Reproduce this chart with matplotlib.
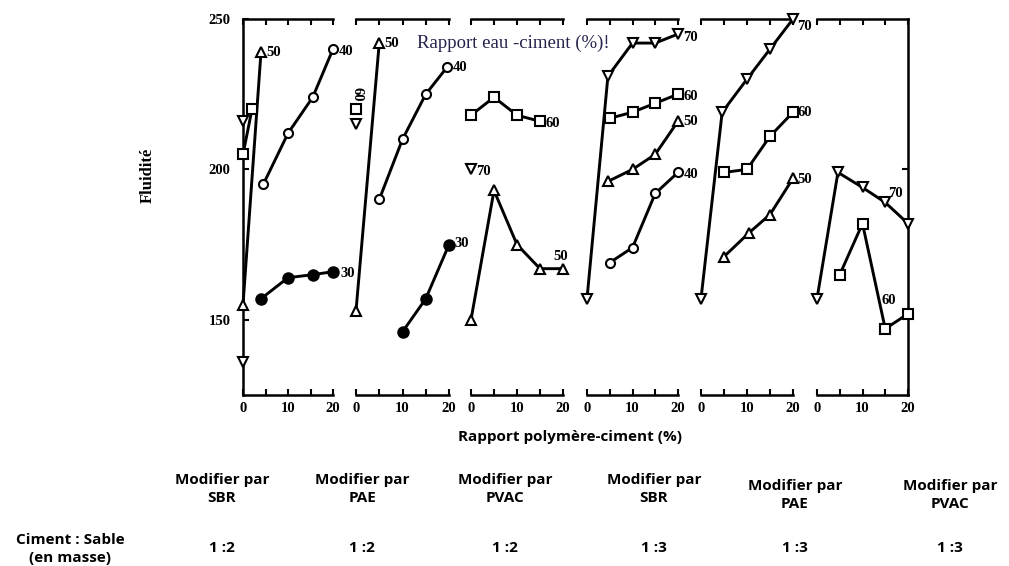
import matplotlib
matplotlib.use("Agg")
import matplotlib.pyplot as plt

# ---------------- data ----------------
panel_names = ["SBR", "PAE", "PVAC", "SBR", "PAE", "PVAC"]
panel_ratios = ["1 :2", "1 :2", "1 :2", "1 :3", "1 :3", "1 :3"]

# Panel 1 : SBR, 1:2
p1_x30 = [4, 10, 15.5, 20]
p1_y30 = [157, 164, 165, 166]
p1_x40 = [4.5, 10, 15.5, 20]
p1_y40 = [195, 212, 224, 240]
p1_x50 = [0, 4]
p1_y50 = [155, 239]
p1_x60 = [0, 2]
p1_y60 = [205, 220]
p1_x70 = [0, 0]
p1_y70 = [136, 216]

# Panel 2 : PAE, 1:2
p2_x30 = [10, 15, 20]
p2_y30 = [146, 157, 175]
p2_x40 = [5, 10, 15, 19.6]
p2_y40 = [190, 210, 225, 234]
p2_x50 = [0, 5]
p2_y50 = [153, 242]
p2_x60 = [0]
p2_y60 = [220]
p2_x70 = [0]
p2_y70 = [215]

# Panel 3 : PVAC, 1:2
p3_x50 = [0, 5, 10, 15, 20]
p3_y50 = [150, 193, 175, 167, 167]
p3_x60 = [0, 5, 10, 15]
p3_y60 = [218, 224, 218, 216]
p3_x70 = [0]
p3_y70 = [200]

# Panel 4 : SBR, 1:3
p4_x40 = [5, 10, 15, 20]
p4_y40 = [169, 174, 192, 199]
p4_x50 = [4.6, 10, 15, 20]
p4_y50 = [196, 200, 205, 216]
p4_x60 = [5, 10, 15, 20]
p4_y60 = [217, 219, 222, 225]
p4_x70 = [0, 4.6, 10, 15, 20]
p4_y70 = [157, 231, 242, 242, 245]

# Panel 5 : PAE, 1:3
p5_x50 = [5, 10.5, 15, 20]
p5_y50 = [171, 179, 185, 197]
p5_x60 = [5, 10, 15, 20]
p5_y60 = [199, 200, 211, 219]
p5_x70 = [0, 4.6, 10, 15, 20]
p5_y70 = [157, 219, 230, 240, 250]

# Panel 6 : PVAC, 1:3
p6_x60 = [5, 10, 15, 20]
p6_y60 = [165, 182, 147, 152]
p6_x70 = [0, 4.6, 10, 15, 20]
p6_y70 = [157, 199, 194, 189, 182]

x_ticks = [0, 5, 10, 15, 20]
x_ticklabels = ["0", "", "10", "", "20"]
y_ticks = [150, 200, 250]

# ---------------- styling ----------------
SERIF = ["Liberation Serif", "DejaVu Serif"]
SANS = ["Open Sans", "Lato", "DejaVu Sans"]
LW = 2.1
MS = 6.5

MARK = {
    30: dict(marker="o", mfc="black", mec="black", ms=7.5),
    40: dict(marker="o", mfc="white", mec="black", ms=MS),
    50: dict(marker="^", mfc="white", mec="black", ms=MS + 1),
    60: dict(marker="s", mfc="white", mec="black", ms=MS),
    70: dict(marker="v", mfc="white", mec="black", ms=MS + 1),
}

W, H = 1009, 566
fig = plt.figure(figsize=(W / 100, H / 100), dpi=100)

panel_px = [(243, 333), (356, 449), (471, 563), (587, 678), (701, 793), (817, 908)]
top_px, bot_px = 19, 395

axes = []
for i, (x1, x2) in enumerate(panel_px):
    ax = fig.add_axes([x1 / W, 1 - bot_px / H, (x2 - x1) / W, (bot_px - top_px) / H])
    ax.set_xlim(0, 20)
    ax.set_ylim(125, 250)
    for s in ax.spines.values():
        s.set_linewidth(1.8)
    ax.spines["left"].set_visible(i == 0)
    ax.spines["right"].set_visible(i == 5)
    ax.set_xticks(x_ticks)
    ax.set_xticklabels(x_ticklabels, fontfamily=SERIF, fontsize=10.5, fontweight="bold")
    ax.tick_params(axis="x", direction="in", top=True, bottom=True,
                   length=4.5, width=1.5, pad=5)
    if i == 0:
        ax.set_yticks(y_ticks)
        ax.set_yticklabels([str(v) for v in y_ticks], fontfamily=SERIF,
                           fontsize=10.5, fontweight="bold")
        ax.tick_params(axis="y", direction="in", left=True, right=False,
                       length=4.5, width=1.5, pad=9)
    elif i == 5:
        ax.set_yticks([200])
        ax.tick_params(axis="y", direction="in", left=False, right=True,
                       labelleft=False, labelright=False, length=4.5, width=1.5)
    else:
        ax.set_yticks([])
    ax.patch.set_alpha(0)
    axes.append(ax)


def series(ax, xs, ys, wc, label=None, off=(3, -4), line=True, **kw):
    style = dict(MARK[wc])
    style.update(kw)
    ax.plot(xs, ys, color="black", lw=LW if line else 0, mew=1.5,
            clip_on=False, zorder=3, **style)
    if label is not None:
        ax.annotate(label, (xs[-1], ys[-1]), xytext=off, textcoords="offset points",
                    fontfamily=SERIF, fontsize=10.5, fontweight="bold",
                    annotation_clip=False)


a1, a2, a3, a4, a5, a6 = axes

series(a1, p1_x30, p1_y30, 30, "30", off=(5, -4))
series(a1, p1_x40, p1_y40, 40, "40", off=(4, -4))
series(a1, p1_x50, p1_y50, 50, "50", off=(4, -3))
series(a1, p1_x60, p1_y60, 60)
series(a1, p1_x70, p1_y70, 70, line=False)

series(a2, p2_x30, p2_y30, 30, "30", off=(4, -2))
series(a2, p2_x40, p2_y40, 40, "40", off=(4, -3))
series(a2, p2_x50, p2_y50, 50, "50", off=(4, -3))
series(a2, p2_x60, p2_y60, 60, line=False)
series(a2, p2_x70, p2_y70, 70, line=False)
a2.annotate("60", (p2_x60[0], p2_y60[0]), xytext=(-4, 8), textcoords="offset points",
            fontfamily=SERIF, fontsize=10.5, fontweight="bold", rotation=-90,
            annotation_clip=False)

series(a3, p3_x50, p3_y50, 50, "50", off=(-7, 6))
series(a3, p3_x60, p3_y60, 60, "60", off=(4, -4))
series(a3, p3_x70, p3_y70, 70, "70", off=(4, -4), line=False)

series(a4, p4_x40, p4_y40, 40, "40", off=(4, -4))
series(a4, p4_x50, p4_y50, 50, "50", off=(4, -3))
series(a4, p4_x60, p4_y60, 60, "60", off=(4, -4))
series(a4, p4_x70, p4_y70, 70, "70", off=(4, -5))

series(a5, p5_x50, p5_y50, 50, "50", off=(3, -3))
series(a5, p5_x60, p5_y60, 60, "60", off=(3, -3))
series(a5, p5_x70, p5_y70, 70, "70", off=(3, -8))

series(a6, p6_x60, p6_y60, 60, "60", off=(-19, 7))
series(a6, p6_x70, p6_y70, 70, "70", off=(-14, 19))

# ---------------- texts ----------------
fig.text(513 / W, 1 - 43 / H, "Rapport eau -ciment (%)!", fontfamily=SERIF,
         fontsize=13.5, color="#22224a", ha="center", va="center")
fig.text(148 / W, 1 - 175 / H, "Fluidité", fontfamily=SERIF, fontsize=12,
         fontweight="bold", rotation=90, ha="center", va="center")
fig.text(570 / W, 1 - 437 / H, "Rapport polymère-ciment (%)", fontfamily=SANS,
         fontsize=11, fontweight="bold", ha="center", va="center")

name_x = [222, 362, 505, 654, 795, 950]
name_dy = [0, 0, 0, 0, 6, 6]
for xp, nm, rt, dy in zip(name_x, panel_names, panel_ratios, name_dy):
    fig.text(xp / W, 1 - (489 + dy) / H, "Modifier par\n" + nm, fontfamily=SANS,
             fontsize=11, fontweight="bold", ha="center", va="center",
             linespacing=1.45)
    fig.text(xp / W, 1 - 548 / H, rt, fontfamily=SANS, fontsize=11,
             fontweight="bold", ha="center", va="center")

fig.text(70 / W, 1 - 549 / H, "Ciment : Sable\n(en masse)", fontfamily=SANS,
         fontsize=11, fontweight="bold", ha="center", va="center",
         linespacing=1.4)

fig.savefig("out.png", dpi=100)
